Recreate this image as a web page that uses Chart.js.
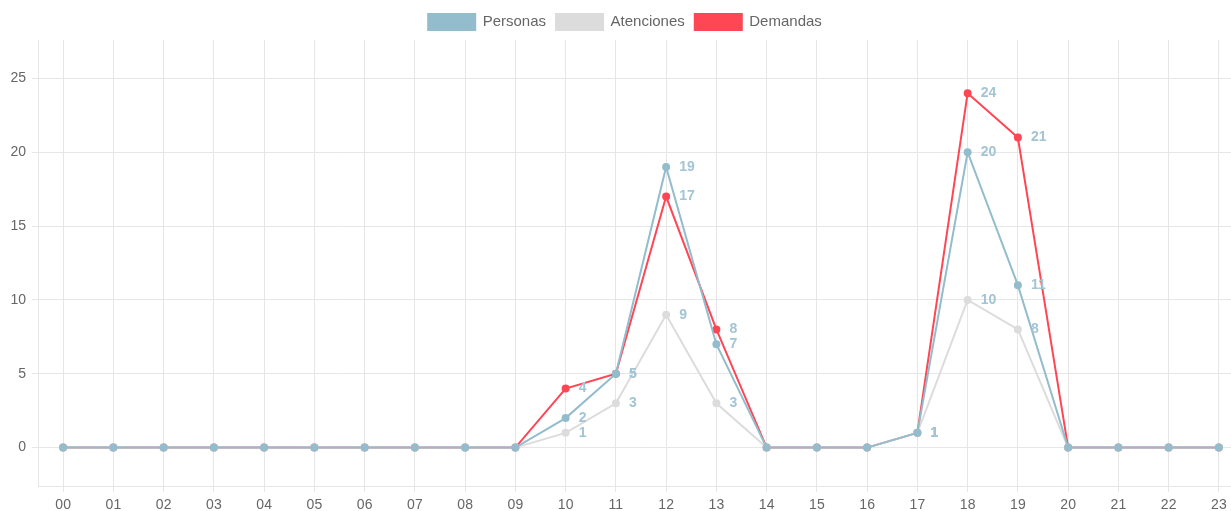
<!DOCTYPE html>
<html>
<head>
<meta charset="utf-8">
<script src="https://cdn.jsdelivr.net/npm/chart.js@4"></script>
<style>
  html, body { margin: 0; padding: 0; background: #fff; overflow: hidden; }
  #wrap { width: 1250px; height: 511px; }
</style>
</head>
<body>
<div id="wrap"><canvas id="chart"></canvas></div>
<script>
"use strict";

const hours = ["00","01","02","03","04","05","06","07","08","09","10","11","12","13","14","15","16","17","18","19","20","21","22","23"];
const personas   = [0,0,0,0,0,0,0,0,0,0,2,5,19,7,0,0,0,1,20,11,0,0,0,0];
const atenciones = [0,0,0,0,0,0,0,0,0,0,1,3,9,3,0,0,0,1,10,8,0,0,0,0];
const demandas   = [0,0,0,0,0,0,0,0,0,0,4,5,17,8,0,0,0,1,24,21,0,0,0,0];
const yTicks = [0, 5, 10, 15, 20, 25];

const blue = "#93bccc";
const grey = "#dcdcdc";
const red = "#ff4655";
const labelColor = "#a3c4d4";
const font = "'Liberation Sans', Arial, sans-serif";

// small labels next to every non zero point
const pointLabels = {
  id: "pointLabels",
  afterDatasetsDraw(chart) {
    const ctx = chart.ctx;
    ctx.save();
    ctx.font = "bold 14px " + font;
    ctx.fillStyle = labelColor;
    ctx.textAlign = "left";
    ctx.textBaseline = "middle";
    chart.data.datasets.forEach((ds, i) => {
      const meta = chart.getDatasetMeta(i);
      meta.data.forEach((pt, j) => {
        if (ds.data[j] !== 0) {
          ctx.fillText(ds.data[j], pt.x + 13, pt.y);
        }
      });
    });
    ctx.restore();
  }
};

function line(label, data, color) {
  return {
    label: label,
    data: data,
    borderColor: color,
    backgroundColor: color,
    pointBackgroundColor: color,
    pointBorderColor: color,
    pointRadius: 3,
    pointHoverRadius: 4,
    borderWidth: 2,
    tension: 0,
    fill: false
  };
}

const config = {
  type: "line",
  data: {
    labels: hours,
    datasets: [
      line("Personas", personas, blue),
      line("Atenciones", atenciones, grey),
      line("Demandas", demandas, red)
    ]
  },
  options: {
    responsive: true,
    maintainAspectRatio: false,
    animation: false,
    layout: { padding: { top: 4, right: 0, bottom: 0, left: 0 } },
    plugins: {
      legend: {
        position: "top",
        labels: {
          boxWidth: 47,
          boxHeight: 16,
          color: "#666",
          font: { size: 15, family: font }
        }
      },
      tooltip: { enabled: false }
    },
    scales: {
      x: {
        offset: true,
        afterFit(scale) { scale.height = 25; },
        grid: { offset: false, color: "#e6e6e6", tickLength: 6 },
        border: { color: "#e6e6e6" },
        ticks: {
          color: "#666",
          padding: 5,
          maxRotation: 0,
          font: { size: 14, family: font }
        }
      },
      y: {
        min: -2.6,
        max: 27.6,
        afterFit(scale) { scale.width = 38; },
        afterBuildTicks(scale) { scale.ticks = yTicks.map(v => ({ value: v })); },
        grid: { color: "#e6e6e6", tickLength: 6 },
        border: { color: "#e6e6e6" },
        ticks: {
          color: "#666",
          padding: 6,
          font: { size: 14, family: font }
        }
      }
    }
  },
  plugins: [pointLabels]
};

const myChart = new Chart(document.getElementById("chart"), config);
</script>
</body>
</html>
